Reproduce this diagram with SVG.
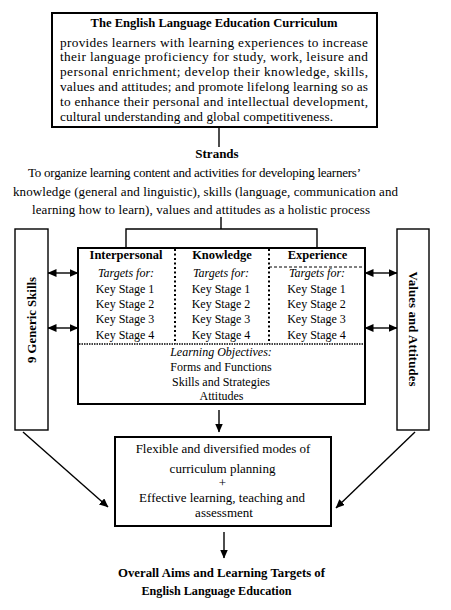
<svg xmlns="http://www.w3.org/2000/svg" width="451" height="610" viewBox="0 0 451 610">
<style>
text{font-family:"Liberation Serif","Times New Roman",serif;fill:#000}
.b{font-weight:bold}
.i{font-style:italic}
.m{text-anchor:middle}
.body{font-size:13.3px}
.st{font-size:13px}
.cb{font-size:12px}
.hd{font-size:12.5px;font-weight:bold}
.box{fill:#fff;stroke:#000;stroke-width:2}
.sbox{fill:#fff;stroke:#000;stroke-width:1.4}
.ln{fill:none;stroke:#000;stroke-width:1.4}
</style>
<defs>
<marker id="ah" markerUnits="userSpaceOnUse" markerWidth="9" markerHeight="8" refX="8.5" refY="4" orient="auto-start-reverse">
<path d="M0,0 L9,4 L0,8 z" fill="#000"/>
</marker>
</defs>

<g id="connectors">
<path class="ln" d="M219,127 V147"/>
<path class="ln" d="M221,217 V229"/>
<path class="ln" d="M126,248 V229 H317 V248" stroke-width="2"/>
<path class="ln" d="M48,273 H78" marker-start="url(#ah)" marker-end="url(#ah)"/>
<path class="ln" d="M48,328 H78" marker-start="url(#ah)" marker-end="url(#ah)"/>
<path class="ln" d="M365,273 H397" marker-start="url(#ah)" marker-end="url(#ah)"/>
<path class="ln" d="M365,328 H397" marker-start="url(#ah)" marker-end="url(#ah)"/>
<path class="ln" d="M219,410 V432" marker-end="url(#ah)"/>
<path class="ln" d="M224,532 V558" marker-end="url(#ah)"/>
<path class="ln" d="M23,432 L108,507" marker-end="url(#ah)"/>
<path class="ln" d="M415,432 L336,508" marker-end="url(#ah)"/>
</g>

<g id="curriculum">
<rect class="box" x="52" y="13" width="325" height="114"/>
<text class="b m" x="214" y="27" font-size="12.6" textLength="247" lengthAdjust="spacingAndGlyphs">The English Language Education Curriculum</text>
<text class="body" x="60" y="46.5" textLength="308" lengthAdjust="spacing">provides learners with learning experiences to increase</text>
<text class="body" x="60" y="61.3" textLength="308" lengthAdjust="spacing">their language proficiency for study, work, leisure and</text>
<text class="body" x="60" y="76.1" textLength="308" lengthAdjust="spacing">personal enrichment; develop their knowledge, skills,</text>
<text class="body" x="60" y="90.9" textLength="308" lengthAdjust="spacing">values and attitudes; and promote lifelong learning so as</text>
<text class="body" x="60" y="105.7" textLength="308" lengthAdjust="spacing">to enhance their personal and intellectual development,</text>
<text class="body" x="60" y="120.5" textLength="273" lengthAdjust="spacing">cultural understanding and global competitiveness.</text>
</g>

<g id="strands">
<text class="b m" x="217" y="158" font-size="13">Strands</text>
<text class="st" x="28" y="177" textLength="333" lengthAdjust="spacing">To organize learning content and activities for developing learners’</text>
<text class="st" x="13" y="195.5" textLength="385" lengthAdjust="spacing">knowledge (general and linguistic), skills (language, communication and</text>
<text class="st" x="32" y="214" textLength="338" lengthAdjust="spacing">learning how to learn), values and attitudes as a holistic process</text>
</g>

<g id="generic-skills">
<rect class="sbox" x="15" y="229" width="33" height="201"/>
<text class="b m" transform="translate(36,320) rotate(-90)" font-size="12.8" textLength="86" lengthAdjust="spacingAndGlyphs">9 Generic Skills</text>
</g>

<g id="values-attitudes">
<rect class="sbox" x="397" y="229" width="32" height="201"/>
<text class="b m" transform="translate(408.5,329) rotate(90)" font-size="12.8" textLength="115" lengthAdjust="spacing">Values and Attitudes</text>
</g>

<g id="strand-table">
<rect class="box" x="78" y="248" width="287" height="156"/>
<path d="M175,249 V344 M269,249 V344" fill="none" stroke="#000" stroke-width="2" stroke-dasharray="2 2.5"/>
<path d="M269,267 H364" fill="none" stroke="#000" stroke-width="1" stroke-dasharray="3 2"/>
<path d="M79,344 H364" fill="none" stroke="#000" stroke-width="1.3" stroke-dasharray="1.5 1"/>
<text class="hd m" x="126" y="258.5">Interpersonal</text>
<text class="hd m" x="222" y="258.5">Knowledge</text>
<text class="hd m" x="317.5" y="258.5">Experience</text>
<g class="cb">
<text class="i m cb" x="126" y="277">Targets for:</text>
<text class="m cb" x="125" y="292.5">Key Stage 1</text>
<text class="m cb" x="125" y="308">Key Stage 2</text>
<text class="m cb" x="125" y="323">Key Stage 3</text>
<text class="m cb" x="125" y="338.5">Key Stage 4</text>
<text class="i m cb" x="221" y="277">Targets for:</text>
<text class="m cb" x="221" y="292.5">Key Stage 1</text>
<text class="m cb" x="221" y="308">Key Stage 2</text>
<text class="m cb" x="221" y="323">Key Stage 3</text>
<text class="m cb" x="221" y="338.5">Key Stage 4</text>
<text class="i m cb" x="317" y="277">Targets for:</text>
<text class="m cb" x="316.5" y="292.5">Key Stage 1</text>
<text class="m cb" x="316.5" y="308">Key Stage 2</text>
<text class="m cb" x="316.5" y="323">Key Stage 3</text>
<text class="m cb" x="316.5" y="338.5">Key Stage 4</text>
<text class="i m cb" x="221" y="355.5">Learning Objectives:</text>
<text class="m cb" x="221" y="370.5">Forms and Functions</text>
<text class="m cb" x="221" y="385.5">Skills and Strategies</text>
<text class="m cb" x="221.5" y="400">Attitudes</text>
</g>
</g>

<g id="planning">
<rect class="box" x="115" y="437" width="216" height="89"/>
<text class="m st" x="223" y="453">Flexible and diversified modes of</text>
<text class="m st" x="222.5" y="472.5">curriculum planning</text>
<text class="m st" x="222.5" y="487">+</text>
<text class="m st" x="222" y="501.5">Effective learning, teaching and</text>
<text class="m st" x="224" y="516.5">assessment</text>
</g>

<g id="aims">
<text class="b m" x="221.5" y="577" font-size="12.6" textLength="207" lengthAdjust="spacingAndGlyphs">Overall Aims and Learning Targets of</text>
<text class="b m" x="216.5" y="595" font-size="12.6" textLength="150" lengthAdjust="spacingAndGlyphs">English Language Education</text>
</g>
</svg>
